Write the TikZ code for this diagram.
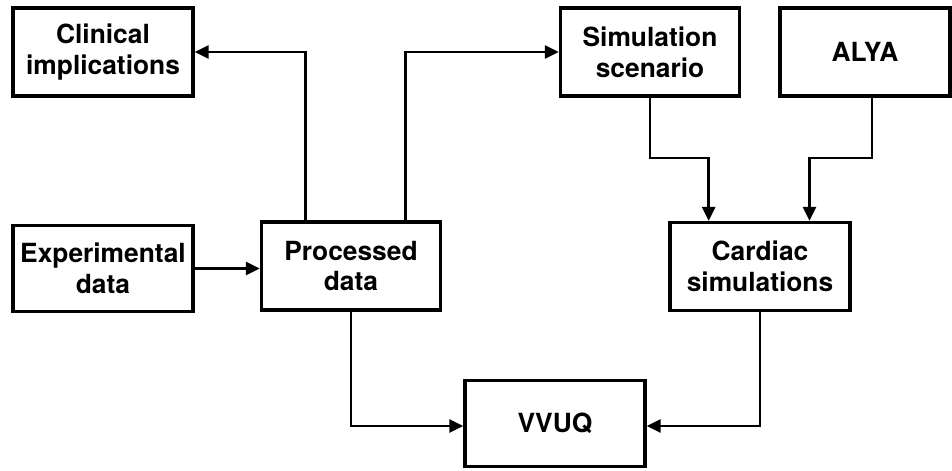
\documentclass[tikz,border=0pt]{standalone}
\usepackage{fontspec}
\setmainfont{TeX Gyre Heros}
\usetikzlibrary{arrows.meta, calc}
\tikzset{
    blockBox/.style={
        rectangle, draw=black, line width=1.9pt,
        minimum width=3.6cm, minimum height=1.76cm,
        inner sep=2pt, align=center,
        font=\fontsize{15}{17.6}\selectfont\bfseries
    },
    flowArrow/.style={
        -{Triangle[length=0.28cm, width=0.26cm]},
        line width=1.65pt, draw=black
    }
}

\begin{document}
\begin{tikzpicture}[x=0.02cm, y=-0.02cm]

	\useasboundingbox (0,0) rectangle (952,470);

	% =========================================================
	% Blocks
	% =========================================================

	\node [blockBox] (clin) at (103,52) {Clinical\\implications};
	\node [blockBox, minimum width=3.58cm] (scen) at (650,52) {Simulation\\scenario};
	\node [blockBox, minimum width=3.4cm] (alya) at (865,52) {ALYA};

	\node [blockBox, minimum height=1.72cm] (expe) at (103,268.5) {Experimental\\data};
	\node [blockBox, minimum width=3.58cm] (proc) at (351,266) {Processed\\data};
	\node [blockBox] (card) at (760,266.5) {Cardiac\\simulations};

	\node [blockBox, minimum height=1.72cm] (vvuq) at (555,423.5) {VVUQ};

	% =========================================================
	% Connectors
	% =========================================================

	\coordinate (procL) at ($(proc.north west)!0.25!(proc.north east)$);
	\coordinate (procR) at ($(proc.north west)!0.8!(proc.north east)$);
	\coordinate (cardL) at ($(card.north west)!0.22!(card.north east)$);
	\coordinate (cardR) at ($(card.north west)!0.77!(card.north east)$);
	\coordinate (alyaB) at ($(alya.south)+(7,0)$);

	\draw [flowArrow] (procL) |- (clin.east);
	\draw [flowArrow] (procR) |- (scen.west);
	\draw [flowArrow] (expe.east) -- (expe.east -| proc.west);

	\draw [flowArrow] (scen.south) -- (scen.south |- 0,158) -| (cardL);
	\draw [flowArrow] (alyaB) -- (alyaB |- 0,158) -| (cardR);

	\draw [flowArrow] (proc.south) |- (vvuq.west |- 0,426);
	\draw [flowArrow] (card.south) |- (vvuq.east |- 0,426);

\end{tikzpicture}
\end{document}
